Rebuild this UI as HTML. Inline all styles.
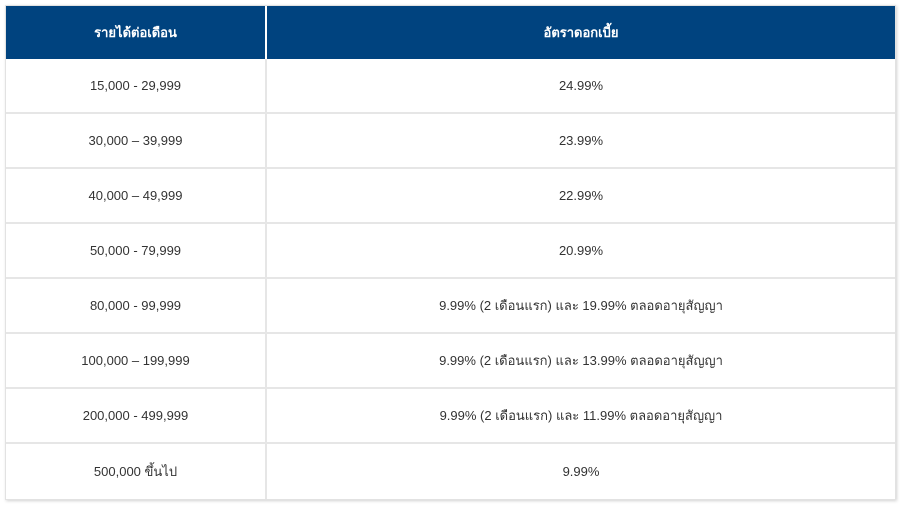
<!DOCTYPE html>
<html><head><meta charset="utf-8"><style>
body{margin:0;width:900px;height:508px;background:#fff;font-family:"Liberation Sans","DejaVu Sans",sans-serif;position:relative;overflow:hidden}
.t{position:absolute;left:5px;top:5px;width:891px;height:495px;box-shadow:1px 1px 3px rgba(0,0,0,0.18);border:1px solid #e2e2e2;box-sizing:border-box}
.r{position:absolute;left:0;width:889px;height:55px;border-bottom:2px solid #e6e6e6;box-sizing:border-box;font-size:13px;color:#333;padding-top:1px}
.c1,.c2{position:absolute;top:0;height:100%;display:flex;align-items:center;justify-content:center}
.c1{left:0;width:259px;border-right:2px solid #e6e6e6}
.c2{left:261px;width:628px}
.h{top:0;height:53px;background:#00437f;color:#fff;font-weight:bold;border-bottom:none}
.h .c1{border-right:2px solid #fff}
</style></head><body>
<div class="t">
<div class="r h"><div class="c1">รายได้ต่อเดือน</div><div class="c2">อัตราดอกเบี้ย</div></div>
<div class="r" style="top:53px"><div class="c1">15,000 - 29,999</div><div class="c2">24.99%</div></div>
<div class="r" style="top:108px"><div class="c1">30,000 – 39,999</div><div class="c2">23.99%</div></div>
<div class="r" style="top:163px"><div class="c1">40,000 – 49,999</div><div class="c2">22.99%</div></div>
<div class="r" style="top:218px"><div class="c1">50,000 - 79,999</div><div class="c2">20.99%</div></div>
<div class="r" style="top:273px"><div class="c1">80,000 - 99,999</div><div class="c2">9.99% (2 เดือนแรก) และ 19.99% ตลอดอายุสัญญา</div></div>
<div class="r" style="top:328px"><div class="c1">100,000 – 199,999</div><div class="c2">9.99% (2 เดือนแรก) และ 13.99% ตลอดอายุสัญญา</div></div>
<div class="r" style="top:383px"><div class="c1">200,000 - 499,999</div><div class="c2">9.99% (2 เดือนแรก) และ 11.99% ตลอดอายุสัญญา</div></div>
<div class="r" style="top:438px;border-bottom:none"><div class="c1">500,000 ขึ้นไป</div><div class="c2">9.99%</div></div>
</div>
</body></html>
